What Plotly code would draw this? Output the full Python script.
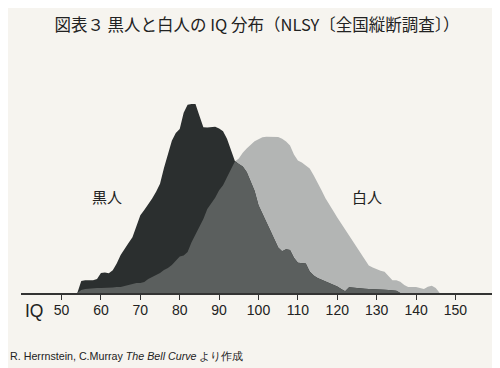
import plotly.graph_objects as go
import numpy as np

# IQ grid (shared by both series)
iq = list(range(54, 147))

# Relative frequency (arbitrary units)
black = [0, 12, 12.7, 12.7, 12.7, 14, 20, 20.4, 19.7, 22.7,
         29.4, 38, 44.5, 49.9, 55.7, 66, 77.7, 83, 88.2, 94.3,
         101, 109, 124.7, 139, 152, 159.7, 163.7, 180, 188, 188.7,
         188.7, 177, 165.4, 165.2, 165.5, 166, 164.3, 161.4, 154, 143,
         131.7, 128.7, 126.2, 120.7, 111.7, 102, 87.7, 79.7, 70.3, 62.5,
         54, 45.4, 41.7, 43.7, 43, 35.3, 30.2, 30.2, 29.5, 21.5,
         17.5, 15, 13.3, 11.6, 10, 8.4, 6.4, 4, 1.7, 5.7,
         5.2, 4.7, 4.4, 4.2, 4, 4, 3.7, 3.5, 3.3, 3,
         2.7, 2.3, 0, 0, 0, 0, 0, 0, 0, 0,
         0, 0, 0]
white = [0, 3, 4, 4.5, 4.5, 5, 5, 5, 5.5, 5.5,
         6, 6, 7, 8, 9, 10, 10, 11, 14, 16,
         18, 20, 23, 25, 28, 32, 36.5, 37.5, 41, 50.7,
         58.7, 66, 74, 84, 89.7, 95.2, 102.7, 107.5, 115.7, 124,
         131.2, 134.4, 140, 144.2, 148, 151.6, 153.5, 155.4, 156, 156,
         156, 155.7, 153.9, 151.2, 147.2, 138.2, 132.2, 130.2, 127.2, 124.2,
         117.7, 110.7, 102.7, 94.7, 87.7, 82, 75.4, 69.5, 62.7, 57.2,
         50.7, 45.2, 39.2, 33.2, 27.5, 25.5, 23.7, 22.2, 21.2, 16.9,
         12.7, 12.7, 11.2, 8, 6, 6, 6, 4.9, 3.9, 6.3,
         7.2, 5, 0]

tick_vals = [50, 60, 70, 80, 90, 100, 110, 120, 130, 140, 150]
tick_text = [str(v) for v in tick_vals]

title_text = "図表３ 黒人と白人の IQ 分布（NLSY〔全国縦断調査〕）"
label_black = "黒人"
label_white = "白人"
source_text = "R. Herrnstein, C.Murray <i>The Bell Curve</i> より作成"

overlap = np.minimum(np.array(black), np.array(white)).tolist()

BG = "#f6f4ef"
LIGHT = "#b3b5b4"
DARK = "#2b2f2f"
MID = "#5b5f5e"
fig = go.Figure()
fig.add_trace(go.Scatter(x=iq, y=white, mode="lines", line=dict(width=0, color=LIGHT),
                         fill="tozeroy", fillcolor=LIGHT, hoverinfo="skip", showlegend=False))
fig.add_trace(go.Scatter(x=iq, y=black, mode="lines", line=dict(width=0, color=DARK),
                         fill="tozeroy", fillcolor=DARK, hoverinfo="skip", showlegend=False))
fig.add_trace(go.Scatter(x=iq, y=overlap, mode="lines", line=dict(width=0, color=MID),
                         fill="tozeroy", fillcolor=MID, hoverinfo="skip", showlegend=False))

# page body has an 8px margin: figure is 492x360 and offset by (8, 8)
fig.update_layout(
    width=492, height=360,
    margin=dict(l=13, r=4, t=82, b=75.3),
    paper_bgcolor=BG, plot_bgcolor=BG,
    font=dict(family="Liberation Sans, Arial, sans-serif", color="#222"),
    title=dict(text=title_text, x=249 / 492, xanchor="center", y=1 - 17 / 360, yanchor="middle",
               xref="container", yref="container",
               font=dict(family="Noto Sans CJK JP", size=16.5, color="#222")),
    xaxis=dict(range=[39.7, 160.3], showgrid=False, zeroline=False,
               showline=True, linecolor="#333", linewidth=1.5,
               ticks="outside", ticklen=5, tickwidth=1.2, tickcolor="#333",
               tickvals=tick_vals, ticktext=tick_text, ticklabelstandoff=-2,
               tickfont=dict(size=14, color="#222", family="Liberation Sans, Arial, sans-serif")),
    yaxis=dict(range=[0, 202.7], visible=False, showgrid=False, zeroline=False),
)

fig.add_annotation(text=label_black, x=61.5, y=96, xref="x", yref="y", showarrow=False,
                   font=dict(family="Noto Sans CJK JP", size=15, color="#222"))
fig.add_annotation(text=label_white, x=127.5, y=96, xref="x", yref="y", showarrow=False,
                   font=dict(family="Noto Sans CJK JP", size=15, color="#222"))
fig.add_annotation(text="IQ", x=0.004, y=-0.09, xref="paper", yref="paper", showarrow=False,
                   xanchor="left", yanchor="middle",
                   font=dict(family="Liberation Sans, Arial, sans-serif", size=17.5, color="#222"))
fig.add_annotation(text=source_text, x=-0.027, y=-0.312, xref="paper", yref="paper", showarrow=False,
                   xanchor="left", yanchor="middle",
                   font=dict(family="Liberation Sans, Arial, sans-serif", size=10.7, color="#222"))

fig.write_html("out.html")
